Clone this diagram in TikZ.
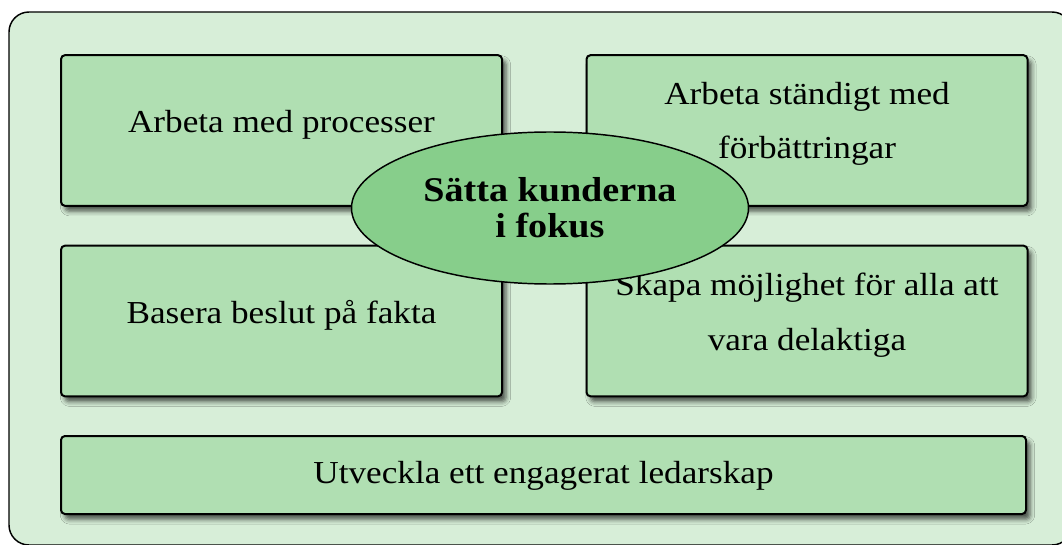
\documentclass[tikz,border=0pt]{standalone}
\usepackage{fontspec}
\setmainfont[FakeStretch=1.1]{Liberation Serif}
\usetikzlibrary{shapes.geometric,shadows.blur}
\definecolor{outerfill}{RGB}{215,238,216}
\definecolor{boxfill}{RGB}{176,223,178}
\definecolor{ellfill}{RGB}{135,206,139}
\tikzset{
 card/.style={draw=black, line width=1.5pt, fill=boxfill, rounded corners=3pt,
   inner sep=0pt, outer sep=0pt,
   blur shadow={shadow xshift=3pt, shadow yshift=-4pt, shadow blur radius=3.5pt, shadow opacity=65}},
 halfcard/.style={card, minimum width=330.75pt, minimum height=113pt},
 lbl/.style={anchor=base, inner sep=0pt, font=\fontsize{24}{28}\selectfont},
 hub/.style={ellipse, draw=black, line width=1.1pt, fill=ellfill, inner sep=0pt,
   minimum width=297.75pt, minimum height=114pt},
 hubtxt/.style={anchor=base, inner sep=0pt, font=\fontsize{26}{30}\selectfont\bfseries}
}
\begin{document}
\begin{tikzpicture}[x=0.75pt,y=-0.75pt]
\useasboundingbox (0,0) rectangle (1062,545);
\clip (0,0) rectangle (1062,545);
\draw[line width=1.1pt, fill=outerfill, rounded corners=15pt] (9,12) rectangle (1072,545);

\node[halfcard] (tl) at (281.5,130.5) {};
\node[halfcard] (tr) at (807,130.5) {};
\node[halfcard] (bl) at (281.5,321) {};
\node[halfcard] (br) at (807,321) {};
\node[card, minimum width=723.75pt, minimum height=58.5pt] (bt) at (543.5,475) {};

\node[lbl] (tl-1) at (281.5,133) {Arbeta med processer};
\node[lbl] (tr-1) at (807,105) {Arbeta ständigt med};
\node[lbl] (tr-2) at (807,159) {förbättringar};
\node[lbl] (bl-1) at (281.5,323) {Basera beslut på fakta};
\node[lbl] (br-1) at (807,295) {Skapa möjlighet för alla att};
\node[lbl] (br-2) at (807,350) {vara delaktiga};
\node[lbl] (bt-1) at (543.5,483) {Utveckla ett engagerat ledarskap};

\node[hub] (hub) at (550,208) {};
\node[hubtxt] (hub-1) at (550,201) {Sätta kunderna};
\node[hubtxt] (hub-2) at (550,237) {i fokus};
\end{tikzpicture}
\end{document}
